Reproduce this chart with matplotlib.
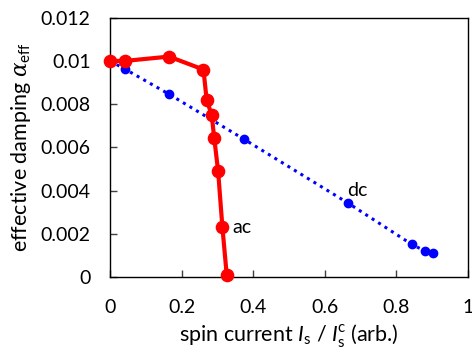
import numpy as np
import matplotlib.pyplot as plt

plt.rcParams['font.family'] = ['Lato', 'DejaVu Sans']
plt.rcParams['mathtext.fontset'] = 'custom'
plt.rcParams['mathtext.rm'] = 'Lato'
plt.rcParams['mathtext.sf'] = 'Lato:italic'
plt.rcParams['mathtext.it'] = 'DejaVu Serif:italic'

# ac series (red)
ac_x = [0.0, 0.042, 0.165, 0.261, 0.270, 0.284, 0.291, 0.302, 0.314, 0.326]
ac_y = [0.0100, 0.0100, 0.0102, 0.0096, 0.0082, 0.0075, 0.00645, 0.0049, 0.0023, 0.0001]

# dc series (blue)
dc_x = [0.0, 0.042, 0.165, 0.374, 0.666, 0.843, 0.880, 0.903]
dc_y = [0.0100, 0.00962, 0.00846, 0.00638, 0.00341, 0.00151, 0.0012, 0.0011]

xticks = [0, 0.2, 0.4, 0.6, 0.8, 1]
xtick_labels = ['0', '0.2', '0.4', '0.6', '0.8', '1']
yticks = [0, 0.002, 0.004, 0.006, 0.008, 0.01, 0.012]
ytick_labels = ['0', '0.002', '0.004', '0.006', '0.008', '0.01', '0.012']

fig = plt.figure(figsize=(4.72, 3.48), dpi=100)
ax = fig.add_axes([110/472, 1 - 277/348, 358/472, 259.3/348])

ax.plot(dc_x, dc_y, color='#0000FF', lw=2.2, linestyle=(0, (1, 1.5)),
        marker='o', markersize=6, zorder=2)
ax.plot(ac_x, ac_y, color='#FF0000', lw=3, marker='o', markersize=8.8,
        zorder=3, clip_on=False)

ax.text(0.662, 0.0040, 'dc', fontsize=14, ha='left', va='center')
ax.text(0.341, 0.0023, 'ac', fontsize=14, ha='left', va='center')

ax.set_xlim(0, 1)
ax.set_ylim(0, 0.012)
ax.set_xticks(xticks)
ax.set_xticklabels(xtick_labels)
ax.set_yticks(yticks)
ax.set_yticklabels(ytick_labels)
ax.tick_params(direction='in', length=5, width=1, labelsize=14, color='#404040')
ax.tick_params(axis='x', pad=16)
ax.tick_params(axis='y', pad=14)
for s in ax.spines.values():
    s.set_linewidth(1)

ax.set_xlabel(r'spin current $\mathsf{I}_\mathrm{s}$ / $\mathsf{I}_\mathrm{s}^\mathrm{c}$ (arb.)',
              fontsize=15.5, labelpad=4)
ax.set_ylabel(r'effective damping $\alpha_\mathrm{eff}$', fontsize=15.5, labelpad=5)

fig.savefig('out.png', dpi=100)
